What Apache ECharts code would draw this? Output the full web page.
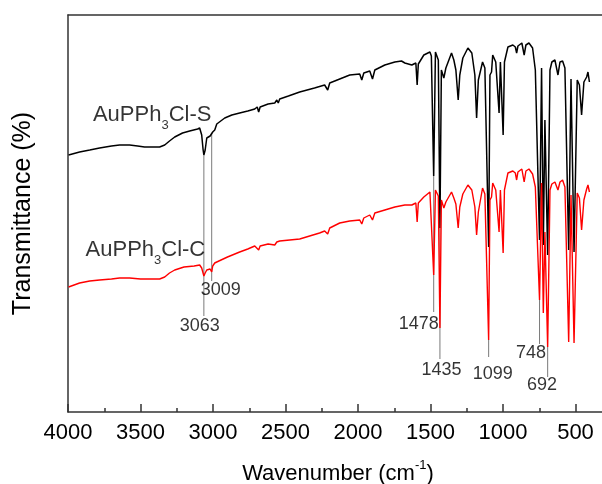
<!DOCTYPE html>
<html>
<head>
<meta charset="utf-8">
<title>FTIR AuPPh3Cl</title>
<script src="https://cdn.jsdelivr.net/npm/echarts@6.0.0/dist/echarts.min.js"></script>
<style>
  html, body { margin: 0; padding: 0; background: #fff; }
  #main { width: 602px; height: 484px; }
</style>
</head>
<body>
<div id="main"></div>
<script>
// spectrum of AuPPh3Cl-S (black) (arbitrary transmittance units)
var sWave = [3996, 3920, 3850, 3782, 3700, 3644, 3575, 3520, 3472, 3420, 3368, 3333, 3300, 3264, 3210, 3161, 3106, 3092,
  3078, 3068, 3063, 3054, 3043, 3030, 3020, 3009, 3002, 2988, 2974, 2919, 2870, 2816, 2760, 2712, 2695, 2685, 2675,
  2620, 2574, 2560, 2550, 2540, 2480, 2402, 2300, 2230, 2209, 2195, 2126, 2057, 1988, 1974, 1960, 1919, 1900, 1884,
  1815, 1746, 1700, 1677, 1629, 1601, 1592, 1584, 1546, 1504, 1494, 1478, 1466, 1446, 1435, 1425, 1408, 1394, 1355,
  1339, 1325, 1309, 1298, 1277, 1242, 1215, 1194, 1182, 1170, 1141, 1125, 1099, 1090, 1079, 1071, 1050, 1027, 1018,
  999, 990, 966, 932, 915, 906, 897, 870, 854, 842, 821, 796, 777, 748, 734, 722, 711, 692, 676, 663, 642, 621, 607,
  589, 573, 547, 531, 510, 488, 473, 458, 442, 423, 414, 404]
var sTrans = [257, 260, 262, 264, 266, 267, 267, 266, 265, 265, 265, 267, 271, 275, 279, 281, 283, 284,
  277, 262, 257, 262, 274, 276, 276, 275, 280, 282, 288, 294, 297, 299, 301, 303, 305, 300, 305,
  308, 309, 312, 309, 313, 316, 320, 324, 327, 322, 329, 333, 337, 338, 332, 339, 341, 333, 342,
  347, 350, 351, 349, 347, 349, 327, 348, 357, 360, 356, 236, 360, 352, 184, 342, 334, 344, 359,
  352, 342, 312, 337, 354, 364, 359, 337, 294, 332, 350, 344, 165, 337, 340, 357, 350, 299, 350,
  277, 350, 365, 367, 365, 359, 366, 369, 357, 367, 369, 364, 342, 172, 344, 167, 292, 157, 342, 350, 352, 337, 350,
  351, 344, 162, 333, 160, 332, 327, 297, 330, 335, 340, 330]

// spectrum of AuPPh3Cl-C (red)
var cWave = [3996, 3920, 3850, 3782, 3700, 3644, 3575, 3500, 3420, 3368, 3333, 3300, 3264, 3200, 3130, 3092,
  3078, 3063, 3054, 3043, 3020, 3009, 3002, 2988, 2974, 2900, 2816, 2760, 2712, 2685, 2675, 2620, 2574, 2560, 2550,
  2540, 2402, 2265, 2230, 2209, 2195, 2126, 2057, 1988, 1974, 1960, 1919, 1900, 1884, 1815, 1746, 1677, 1629, 1601,
  1592, 1584, 1546, 1504, 1494, 1478, 1466, 1446, 1435, 1425, 1408, 1394, 1355, 1339, 1325, 1309, 1298, 1277, 1242,
  1215, 1194, 1182, 1170, 1141, 1125, 1099, 1090, 1079, 1071, 1050, 1027, 1018, 999, 990, 966, 932, 915, 906, 897,
  870, 854, 842, 821, 796, 777, 748, 734, 722, 711, 692, 676, 663, 642, 621, 607, 589, 573, 547, 531, 510, 488, 473,
  458, 442, 423, 414, 404]
var cTrans = [125, 129, 131, 132, 133, 134, 134, 133, 133, 133, 135, 139, 142, 145, 146, 147,
  144, 136, 139, 142, 143, 140, 146, 149, 150, 155, 160, 163, 166, 162, 166, 168, 167, 170, 168,
  171, 173, 179, 181, 178, 184, 189, 191, 192, 188, 194, 197, 192, 199, 202, 205, 207, 207, 209,
  190, 209, 215, 220, 218, 137, 222, 216, 84, 212, 204, 210, 220, 214, 208, 184, 205, 218, 227,
  222, 205, 177, 200, 224, 218, 72, 212, 215, 229, 222, 180, 222, 159, 222, 239, 241, 239, 232, 240,
  243, 230, 241, 243, 238, 225, 112, 229, 99, 180, 65, 222, 228, 230, 222, 230, 232, 225, 70, 217, 69, 219, 214,
  182, 212, 223, 227, 220]

// marked peaks: leader line from/to and where the number sits
var peakWave = [3063, 3009, 1478, 1435, 1099, 748, 692]
var peakLineFrom = [257, 279, 236, 184, 72, 112, 65]
var peakLineTo = [96, 131, 100, 53, 55, 68, 35]
var peakLabelWave = [3092, 2947, 1581, 1424, 1070, 807, 731]
var peakLabelY = [86, 122, 88, 42, 38, 59, 27]

// the picture is cut off at about 317 cm-1, the axis itself runs on to 0 out of view
var xMin = 0
var xMax = 4000

var fontFamily = '"Liberation Sans", Arial, sans-serif'

function pairs (xs, ys) {
  return xs.map(function (x, i) {
    return [x, ys[i]]
  })
}

var chart = echarts.init(document.getElementById('main'))

var series = []

// leader lines
peakWave.forEach(function (w, i) {
  series.push({
    type: 'line',
    silent: true,
    symbol: 'none',
    z: 1,
    lineStyle: { color: '#7a7a7a', width: 1 },
    data: [[w, peakLineFrom[i]], [w, peakLineTo[i]]]
  })
})

series.push({
  name: 'AuPPh3Cl-S',
  type: 'line',
  showSymbol: false,
  z: 2,
  lineStyle: { color: '#000', width: 1.5 },
  data: pairs(sWave, sTrans)
})
series.push({
  name: 'AuPPh3Cl-C',
  type: 'line',
  showSymbol: false,
  z: 3,
  lineStyle: { color: '#ff0000', width: 1.4 },
  data: pairs(cWave, cTrans)
})

// peak numbers
series.push({
  type: 'scatter',
  symbolSize: 0,
  silent: true,
  z: 4,
  label: {
    show: true,
    position: 'inside',
    fontFamily: fontFamily,
    fontSize: 18,
    color: '#000',
    formatter: function (p) { return p.name }
  },
  data: peakWave.map(function (w, i) {
    return { name: String(w), value: [peakLabelWave[i], peakLabelY[i]] }
  })
})

// sample names with subscript 3
var nameRich = {
  n: { fontSize: 22, fontFamily: fontFamily, color: '#000', lineHeight: 34 },
  s: { fontSize: 13, fontFamily: fontFamily, color: '#000', lineHeight: 12, verticalAlign: 'bottom' }
}
series.push({
  type: 'scatter',
  symbolSize: 0,
  silent: true,
  z: 4,
  label: {
    show: true,
    position: 'right',
    distance: 0,
    formatter: function (p) { return p.name },
    rich: nameRich
  },
  data: [
    { name: '{n|AuPPh}{s|3}{n|Cl-S}', value: [3828, 297] },
    { name: '{n|AuPPh}{s|3}{n|Cl-C}', value: [3879, 162] }
  ]
})

var axisColor = '#333'

// axis used only for its inward ticks
function tickAxis (interval, len) {
  return {
    type: 'value',
    inverse: true,
    min: xMin,
    max: xMax,
    interval: interval,
    position: 'bottom',
    axisLine: { show: true, onZero: false, lineStyle: { color: 'rgba(0,0,0,0)' } },
    axisTick: { show: true, inside: true, length: len, lineStyle: { color: axisColor, width: 1.5 } },
    axisLabel: { show: false },
    splitLine: { show: false }
  }
}

chart.setOption({
  backgroundColor: '#fff',
  animation: false,
  grid: { left: 68, right: -46, top: 15, bottom: 72, outerBoundsMode: 'none', containLabel: false },
  xAxis: [
    {
      type: 'value',
      inverse: true,
      min: xMin,
      max: xMax,
      interval: 500,
      position: 'bottom',
      axisLine: { show: true, onZero: false, lineStyle: { color: axisColor, width: 1.5 } },
      axisTick: { show: false },
      axisLabel: {
        fontSize: 22,
        fontFamily: fontFamily,
        color: '#000',
        margin: 10,
        formatter: function (v) { return String(v) }
      },
      splitLine: { show: false },
      name: '{t|Wavenumber (cm}{u|-1}{t|)}',
      nameLocation: 'middle',
      nameGap: 47,
      nameTextStyle: {
        padding: [0, 40, 0, 0],
        rich: {
          t: { fontSize: 22, fontFamily: fontFamily, color: '#000', lineHeight: 30 },
          u: { fontSize: 13, fontFamily: fontFamily, color: '#000', lineHeight: 12, verticalAlign: 'top' }
        }
      }
    },
    tickAxis(500, 8),
    tickAxis(250, 4),
    {
      // top frame line
      type: 'value',
      inverse: true,
      min: xMin,
      max: xMax,
      position: 'top',
      axisLine: { show: true, onZero: false, lineStyle: { color: axisColor, width: 1.5 } },
      axisTick: { show: false },
      axisLabel: { show: false },
      splitLine: { show: false }
    }
  ],
  yAxis: {
    type: 'value',
    min: 0,
    max: 397,
    axisLine: { show: true, onZero: false, lineStyle: { color: axisColor, width: 1.5 } },
    axisTick: { show: false },
    axisLabel: { show: false },
    splitLine: { show: false },
    name: 'Transmittance (%)',
    nameLocation: 'middle',
    nameGap: 32,
    nameTextStyle: { fontSize: 25, fontFamily: fontFamily, color: '#000' }
  },
  series: series
})
</script>
</body>
</html>
